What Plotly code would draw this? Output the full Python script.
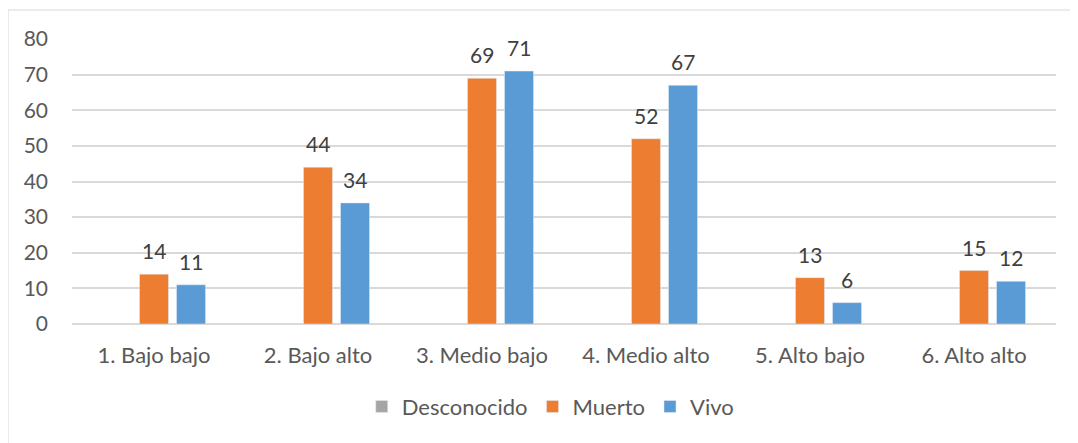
import plotly.graph_objects as go

categories = ["1. Bajo bajo", "2. Bajo alto", "3. Medio bajo", "4. Medio alto", "5. Alto bajo", "6. Alto alto"]
desconocido = [None, None, None, None, None, None]
muerto = [14, 44, 69, 52, 13, 15]
vivo = [11, 34, 71, 67, 6, 12]
y_ticks = [0, 10, 20, 30, 40, 50, 60, 70, 80]

FONT = "Lato"
TXT = "#595959"
FS = 21

fig = go.Figure()
fig.add_trace(go.Bar(name="Desconocido", x=categories, y=desconocido, marker_color="#A5A5A5"))
fig.add_trace(go.Bar(name="Muerto", x=categories, y=muerto, marker_color="#ED7D31"))
fig.add_trace(go.Bar(name="Vivo", x=categories, y=vivo, marker_color="#5B9BD5"))

for series, shift in ((muerto, 0), (vivo, 37)):
    for c, v in zip(categories, series):
        fig.add_annotation(x=c, y=v, text=str(v), showarrow=False, xshift=shift, yshift=9,
                           yanchor="bottom", font=dict(family=FONT, size=FS, color="#404040"))

fig.add_shape(type="rect", xref="paper", yref="paper", x0=-0.065, x1=1.2, y0=-2, y1=1.1018,
              line=dict(color="#D9D9D9", width=1), fillcolor="rgba(0,0,0,0)", layer="below")

fig.update_layout(
    width=1070, height=435,
    margin=dict(l=64, r=22, t=31, b=119),
    barmode="group", bargap=0.323, bargroupgap=0.216,
    plot_bgcolor="white", paper_bgcolor="white",
    font=dict(family=FONT, size=FS, color=TXT),
    showlegend=True,
    legend=dict(orientation="h", x=0.486, xanchor="center", y=-0.29, yanchor="middle",
                font=dict(family=FONT, size=22, color=TXT), itemwidth=30, traceorder="normal"),
    xaxis=dict(showgrid=False, ticks="", ticklabelstandoff=16, showline=False,
               tickfont=dict(family=FONT, size=22, color=TXT)),
    yaxis=dict(range=[0, 80], tickvals=y_ticks, showgrid=True, gridcolor="#D9D9D9", gridwidth=1.5,
               zeroline=True, zerolinecolor="#D9D9D9", zerolinewidth=1.5, ticks="",
               ticklabelstandoff=23, showline=False),
)

fig.write_html("out.html")
